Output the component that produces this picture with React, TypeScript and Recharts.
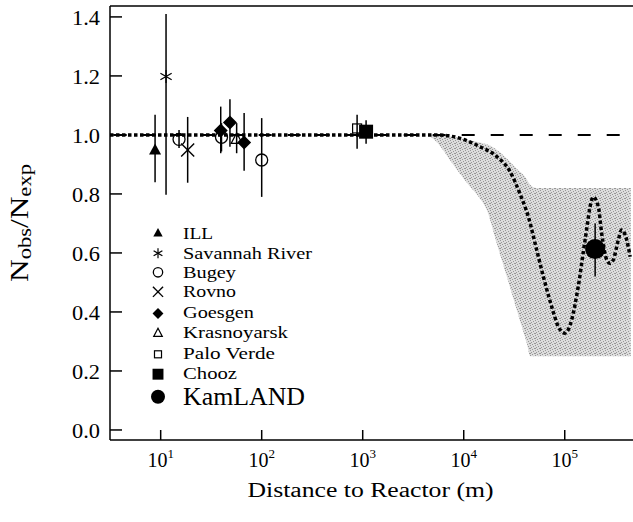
import React from 'react';
import { ComposedChart, XAxis, YAxis, Scatter, Line, Area, ReferenceLine, Legend } from 'recharts';

const FONT = "'Liberation Serif', 'Times New Roman', Times, serif";
const TXT = { fontFamily: FONT };

// ---- axes ----
const X_TICKS = [10, 100, 1000, 10000, 100000];
const X_TICK_EXP = ['1', '2', '3', '4', '5'];
const Y_TICKS = [0, 0.2, 0.4, 0.6, 0.8, 1.0, 1.2, 1.4];
const Y_TICK_LABELS = ['0.0', '0.2', '0.4', '0.6', '0.8', '1.0', '1.2', '1.4'];
const X_DOMAIN = [3.15, 474000];
const Y_MIN = -0.034;
const Y_MAX = 1.437;

// ---- experiments (distance m, Nobs/Nexp, error low, error high) ----
const illData = [{ x: 8.8, y: 0.947, lo: 0.84, hi: 1.068 }];
const savannahData = [{ x: 11.3, y: 1.198, lo: 0.797, hi: 1.41 }];
const bugeyData = [
  { x: 15.2, y: 0.985, lo: 0.956, hi: 1.017 },
  { x: 40, y: 0.992, lo: 0.944, hi: 1.04 },
  { x: 100, y: 0.915, lo: 0.79, hi: 1.057 },
];
const rovnoData = [{ x: 18.5, y: 0.949, lo: 0.838, hi: 1.061 }];
const goesgenData = [
  { x: 39.3, y: 1.015, lo: 0.938, hi: 1.096 },
  { x: 48.5, y: 1.042, lo: 0.96, hi: 1.121 },
  { x: 67, y: 0.974, lo: 0.879, hi: 1.074 },
];
const krasnoyarskData = [{ x: 56.5, y: 0.985, lo: 0.938, hi: 1.04 }];
const paloVerdeData = [{ x: 880, y: 1.022, lo: 0.953, hi: 1.068 }];
const choozData = [{ x: 1080, y: 1.011, lo: 0.97, hi: 1.05 }];
const kamlandData = [{ x: 200000, y: 0.613, lo: 0.52, hi: 0.70 }];

// ---- oscillation prediction curve ----
const curveX = [3.15, 1000, 3000, 5400, 7100, 9900, 14500, 21200, 28700, 36100, 43600, 52800, 61400, 74300,
  86500, 100700, 117000, 136000, 159000, 185000, 191000, 215000, 232000, 261000, 280000, 302000, 339000,
  366000, 411000, 444000];
const curveY = [1.0, 1.0, 1.0, 1.0, 0.997, 0.985, 0.96, 0.927, 0.876, 0.80, 0.723, 0.61, 0.52, 0.418,
  0.35, 0.328, 0.373, 0.486, 0.644, 0.78, 0.79, 0.757, 0.667, 0.576, 0.565, 0.576, 0.644,
  0.678, 0.644, 0.587];

// ---- shaded band ----
const bandX = [4500, 5600, 7300, 9100, 11500, 14100, 16900, 21200, 26700, 33500, 42100, 45700, 52500, 450000];
const bandLo = [1.0, 0.97, 0.915, 0.87, 0.825, 0.79, 0.746, 0.633, 0.52, 0.407, 0.294, 0.25, 0.25, 0.25];
const bandHi = [1.0, 1.0, 0.995, 0.99, 0.982, 0.975, 0.968, 0.95, 0.92, 0.885, 0.85, 0.83, 0.82, 0.82];

// ---- legend ----
const legendNames = ['ILL', 'Savannah River', 'Bugey', 'Rovno', 'Goesgen', 'Krasnoyarsk', 'Palo Verde', 'Chooz', 'KamLAND'];
const legendKinds = ['triFill', 'aster', 'circleOpen', 'cross', 'diamond', 'triOpen', 'squareOpen', 'squareFill', 'circleFill'];

const series = [
  { data: illData, kind: 'triFill' },
  { data: savannahData, kind: 'aster' },
  { data: bugeyData, kind: 'circleOpen' },
  { data: rovnoData, kind: 'cross' },
  { data: goesgenData, kind: 'diamond' },
  { data: krasnoyarskData, kind: 'triOpen' },
  { data: paloVerdeData, kind: 'squareOpen' },
  { data: choozData, kind: 'squareFill' },
  { data: kamlandData, kind: 'circleFill' },
];

const curveData = curveX.map((x, i) => ({ x, y: curveY[i] }));
const bandData = bandX.map((x, i) => ({ x, range: [bandLo[i], bandHi[i]] }));
const allPoints = series.flatMap((s) => s.data);

type MarkerProps = { kind: string; cx: number; cy: number; k: number };
const Marker = ({ kind, cx, cy, k }: MarkerProps) => {
  switch (kind) {
    case 'triFill':
      return <polygon points={`${cx},${cy - 7 * k} ${cx - 6 * k},${cy + 4 * k} ${cx + 6 * k},${cy + 4 * k}`} fill="#000" />;
    case 'triOpen':
      return <polygon points={`${cx},${cy - 6.5 * k} ${cx - 5.5 * k},${cy + 4 * k} ${cx + 5.5 * k},${cy + 4 * k}`} fill="none" stroke="#000" strokeWidth={1.2} />;
    case 'aster': {
      const r = 6.5 * k;
      const dx = r * Math.cos(Math.PI / 6);
      const dy = r * Math.sin(Math.PI / 6);
      return (
        <g stroke="#000" strokeWidth={1.2}>
          <line x1={cx} y1={cy - r} x2={cx} y2={cy + r} />
          <line x1={cx - dx} y1={cy - dy} x2={cx + dx} y2={cy + dy} />
          <line x1={cx - dx} y1={cy + dy} x2={cx + dx} y2={cy - dy} />
        </g>
      );
    }
    case 'circleOpen':
      return <circle cx={cx} cy={cy} r={6 * k} fill="none" stroke="#000" strokeWidth={1.3} />;
    case 'cross': {
      const r = 6.5 * k;
      return (
        <g stroke="#000" strokeWidth={1.4}>
          <line x1={cx - r} y1={cy - r} x2={cx + r} y2={cy + r} />
          <line x1={cx - r} y1={cy + r} x2={cx + r} y2={cy - r} />
        </g>
      );
    }
    case 'diamond': {
      const r = 7 * k;
      return <polygon points={`${cx},${cy - r} ${cx + r},${cy} ${cx},${cy + r} ${cx - r},${cy}`} fill="#000" />;
    }
    case 'squareOpen': {
      const h = 4.5 * k;
      return <rect x={cx - h} y={cy - h} width={2 * h} height={2 * h} fill="none" stroke="#000" strokeWidth={1.2} />;
    }
    case 'squareFill': {
      const h = 7 * k;
      return <rect x={cx - h} y={cy - h} width={2 * h} height={2 * h} fill="#000" />;
    }
    case 'circleFill':
      return <circle cx={cx} cy={cy} r={10 * k} fill="#000" />;
    default:
      return null;
  }
};

const shapeFor = (kind: string) => (p: any) => <Marker kind={kind} cx={p.cx} cy={p.cy} k={1} />;

const YTick = (props: any) => {
  const { x, y, index } = props;
  return (
    <g>
      <line x1={x} y1={y} x2={x + 12} y2={y} stroke="#000" strokeWidth={1.5} />
      <text x={x - 10} y={y + 8} textAnchor="end" style={TXT} fontSize={20} fill="#000"
        textLength={28} lengthAdjust="spacingAndGlyphs">
        {Y_TICK_LABELS[index]}
      </text>
    </g>
  );
};

const XTick = (props: any) => {
  const { x, y, index } = props;
  return (
    <g>
      <line x1={x} y1={y} x2={x} y2={y - 10} stroke="#000" strokeWidth={1.5} />
      <text x={x} y={y + 27} textAnchor="middle" style={TXT} fill="#000">
        <tspan fontSize={20}>10</tspan>
        <tspan fontSize={13} dy={-9}>{X_TICK_EXP[index]}</tspan>
      </text>
    </g>
  );
};

const YTitle = (props: any) => {
  const vb = props.viewBox || { x: 0, y: 6, width: 110, height: 434 };
  const cx = vb.x + 28;
  const cy = vb.y + vb.height / 2;
  return (
    <text transform={`translate(${cx},${cy}) rotate(-90)`} textAnchor="middle" style={TXT} fill="#000"
      textLength={118} lengthAdjust="spacingAndGlyphs">
      <tspan fontSize={25}>N</tspan>
      <tspan fontSize={18} dy={3}>obs</tspan>
      <tspan fontSize={25} dy={-3}>/N</tspan>
      <tspan fontSize={18} dy={3}>exp</tspan>
    </text>
  );
};

const XTitle = (props: any) => {
  const vb = props.viewBox || { x: 110, y: 440, width: 523, height: 82 };
  return (
    <text x={vb.x + vb.width / 2 - 1} y={497} textAnchor="middle" style={TXT} fontSize={20} fill="#000"
      textLength={246} lengthAdjust="spacingAndGlyphs">
      Distance to Reactor (m)
    </text>
  );
};

const legendTextWidths = [30, 129, 53, 53, 71, 105, 92, 54, 122];
const stippleDots = [[0, 0], [3, 1], [1, 2], [4, 3], [2, 4], [0, 3]];

const LegendOverlay = () => {
  const symX = 158;
  const textX = 183;
  const rowCenters = [233.5, 253.3, 272.3, 291.8, 313.5, 333.3, 354.3, 374.2, 396.7];
  const baselines = [238.5, 259.3, 278.3, 297.3, 318.3, 338.3, 359.3, 379.3, 405];
  return (
    <svg width={633} height={522} style={{ position: 'absolute', left: 0, top: 0, pointerEvents: 'none' }}>
      <defs>
        <pattern id="stipple" width={5} height={5} patternUnits="userSpaceOnUse">
          <rect x={0} y={0} width={5} height={5} fill="#dcdcdc" />
          {stippleDots.map(([px, py], i) => (
            <rect key={i} x={px} y={py} width={1} height={1} fill="#979797" />
          ))}
        </pattern>
      </defs>
      {legendNames.map((name, i) => {
        const kind = legendKinds[i];
        const big = kind === 'circleFill';
        return (
          <g key={name}>
            <Marker kind={kind} cx={symX} cy={rowCenters[i]} k={big ? 0.7 : 0.78} />
            <text x={textX} y={baselines[i]} style={TXT} fontSize={big ? 26 : 17} fill="#000"
              textLength={legendTextWidths[i]} lengthAdjust="spacingAndGlyphs">
              {name}
            </text>
          </g>
        );
      })}
    </svg>
  );
};

export default function App() {
  return (
    <div style={{ position: 'absolute', left: 0, top: 0, width: 633, height: 522, background: '#fff', fontFamily: FONT }}>
      <ComposedChart width={633} height={522} margin={{ top: 6, right: 0, bottom: 0, left: 0 }}>
        <XAxis
          dataKey="x"
          type="number"
          scale="log"
          domain={X_DOMAIN}
          allowDataOverflow
          ticks={X_TICKS}
          height={82}
          tickSize={0}
          tickMargin={0}
          tickLine={false}
          tick={<XTick />}
          axisLine={{ stroke: '#000', strokeWidth: 1.5 }}
          label={<XTitle />}
        />
        <YAxis
          type="number"
          domain={[Y_MIN, Y_MAX]}
          allowDataOverflow
          ticks={Y_TICKS}
          width={110}
          tickSize={0}
          tickMargin={0}
          tickLine={false}
          tick={<YTick />}
          axisLine={{ stroke: '#000', strokeWidth: 1.5 }}
          label={<YTitle />}
        />
        <Area
          data={bandData}
          dataKey="range"
          type="monotone"
          fill="url(#stipple)"
          fillOpacity={1}
          stroke="none"
          isAnimationActive={false}
        />
        <ReferenceLine y={Y_MAX} stroke="#000" strokeWidth={1.5} />
        <ReferenceLine y={1} stroke="#000" strokeWidth={2} strokeDasharray="13 16" strokeDashoffset={25.3} />
        <Line
          data={curveData}
          dataKey="y"
          type="monotone"
          stroke="#000"
          strokeWidth={3.5}
          strokeDasharray="3.5 2.5"
          dot={false}
          isAnimationActive={false}
        />
        {allPoints.map((d, i) => (
          <ReferenceLine
            key={`err${i}`}
            segment={[{ x: d.x, y: d.lo }, { x: d.x, y: d.hi }]}
            stroke="#000"
            strokeWidth={1.5}
            ifOverflow="visible"
          />
        ))}
        {series.map((s, i) => (
          <Scatter key={`s${i}`} data={s.data} dataKey="y" shape={shapeFor(s.kind)} isAnimationActive={false} />
        ))}
        <Legend
          layout="vertical"
          align="center"
          verticalAlign="middle"
          content={() => <LegendOverlay />}
          wrapperStyle={{ position: 'absolute', left: 0, top: 0, width: 633, height: 522, margin: 0, pointerEvents: 'none' }}
        />
      </ComposedChart>
    </div>
  );
}
